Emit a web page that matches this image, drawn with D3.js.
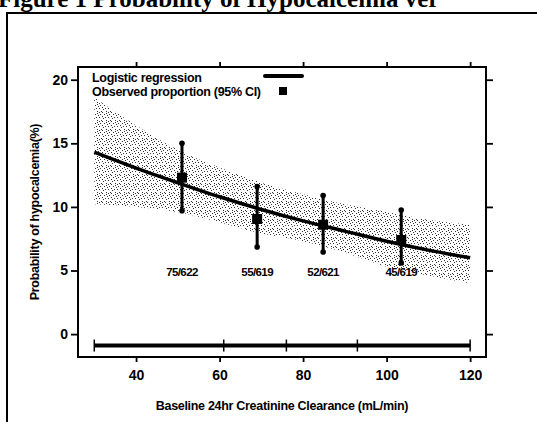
<!doctype html>
<html lang="en">
<head>
  <meta charset="UTF-8">
  <title>Probability of Hypocalcemia</title>
  <script src="https://cdn.jsdelivr.net/npm/d3@7"></script>
  <style>
    body { margin: 0; background: #fff; }
    text { font-family: "Liberation Sans", Arial, sans-serif; font-weight: bold; fill: #000; }
  </style>
</head>
<body>
<div id="chart"></div>
<script>
  // fitted curve + 95% band
  var fitX     = [30, 40, 50, 60, 70, 80, 90, 100, 110, 120];
  var fitProb  = [14.3, 13.05, 11.9, 10.8, 9.8, 8.9, 8.1, 7.3, 6.6, 6.0];
  var bandHigh = [18.6, 16.4, 14.5, 13.1, 11.9, 11.0, 10.2, 9.6, 9.0, 8.6];
  var bandLow  = [10.2, 10.0, 9.6, 8.8, 7.9, 7.3, 6.4, 5.3, 4.6, 4.0];

  // observed proportions (95% CI)
  var obsX    = [51, 69, 84.8, 103.5];
  var obsProb = [12.3, 9.05, 8.6, 7.4];
  var obsLow  = [9.7, 6.85, 6.45, 5.6];
  var obsHigh = [15.0, 11.6, 10.9, 9.75];
  var obsN    = ["75/622", "55/619", "52/621", "45/619"];

  // distribution of clearance (min, quartiles, max)
  var distMarks = [30, 61, 76, 93, 120];

  var xTicks = [40, 60, 80, 100, 120];
  var yTicks = [0, 5, 10, 15, 20];

  var width = 537, height = 422;
  var svg = d3.select("#chart").append("svg")
      .attr("width", width)
      .attr("height", height);

  // stippled fill for the confidence band
  var defs = svg.append("defs");
  var pat = defs.append("pattern")
      .attr("id", "stipple")
      .attr("patternUnits", "userSpaceOnUse")
      .attr("width", 9).attr("height", 9);
  pat.append("rect").attr("width", 9).attr("height", 9).attr("fill", "#fff");
  [[0,0],[4,1],[7,3],[2,3],[5,6],[8,7],[1,6],[3,8],[6,0],[0,4],[7,5],[3,4]].forEach(function(p) {
    pat.append("rect").attr("x", p[0]).attr("y", p[1])
      .attr("width", 1).attr("height", 1).attr("fill", "#333");
  });

  // title, cut at the top of the scan
  svg.append("text")
      .attr("x", -2).attr("y", 7)
      .style("font-family", "'Liberation Serif', 'Times New Roman', serif")
      .style("font-size", "25px")
      .text("Figure 1 Probability of Hypocalcemia ver");

  // outer figure box
  svg.append("rect")
      .attr("x", 7).attr("y", 13)
      .attr("width", 560).attr("height", 440)
      .attr("fill", "none").attr("stroke", "#000").attr("stroke-width", 2);

  var x = d3.scaleLinear().domain([26.1, 123.8]).range([78, 486]);
  var y = d3.scaleLinear().domain([-1.8, 21.0]).range([357, 67]);

  // band
  var area = d3.area()
      .x(function(d, i) { return x(fitX[i]); })
      .y0(function(d, i) { return y(bandLow[i]); })
      .y1(function(d, i) { return y(bandHigh[i]); })
      .curve(d3.curveMonotoneX);
  svg.append("path")
      .datum(fitX)
      .attr("d", area)
      .attr("fill", "url(#stipple)");

  // fitted line
  var line = d3.line()
      .x(function(d, i) { return x(fitX[i]); })
      .y(function(d, i) { return y(fitProb[i]); })
      .curve(d3.curveMonotoneX);
  svg.append("path")
      .datum(fitX)
      .attr("d", line)
      .attr("fill", "none")
      .attr("stroke", "#000")
      .attr("stroke-width", 3.5);

  // error bars
  var eb = svg.selectAll(".eb").data(obsX).enter().append("g").attr("class", "eb");
  eb.append("line")
      .attr("x1", function(d) { return x(d); }).attr("x2", function(d) { return x(d); })
      .attr("y1", function(d, i) { return y(obsLow[i]); })
      .attr("y2", function(d, i) { return y(obsHigh[i]); })
      .attr("stroke", "#000").attr("stroke-width", 3);
  eb.append("circle")
      .attr("cx", function(d) { return x(d); })
      .attr("cy", function(d, i) { return y(obsLow[i]); })
      .attr("r", 2.8);
  eb.append("circle")
      .attr("cx", function(d) { return x(d); })
      .attr("cy", function(d, i) { return y(obsHigh[i]); })
      .attr("r", 2.8);
  eb.append("rect")
      .attr("x", function(d) { return x(d) - 5; })
      .attr("y", function(d, i) { return y(obsProb[i]) - 5; })
      .attr("width", 10).attr("height", 10);

  // n labels
  svg.selectAll(".nlab").data(obsN).enter().append("text")
      .attr("x", function(d, i) { return x(obsX[i]); })
      .attr("y", y(4.6))
      .attr("text-anchor", "middle")
      .style("font-size", "11.5px")
      .style("letter-spacing", "-0.6px")
      .text(function(d) { return d; });

  // distribution bar
  svg.append("line")
      .attr("x1", x(distMarks[0])).attr("x2", x(distMarks[distMarks.length - 1]))
      .attr("y1", y(-0.9)).attr("y2", y(-0.9))
      .attr("stroke", "#000").attr("stroke-width", 4);
  svg.selectAll(".dm").data(distMarks).enter().append("line")
      .attr("x1", function(d) { return x(d); }).attr("x2", function(d) { return x(d); })
      .attr("y1", y(-0.9) - 6).attr("y2", y(-0.9) + 6)
      .attr("stroke", "#000").attr("stroke-width", 1.5);

  // frame
  svg.append("rect")
      .attr("x", 78).attr("y", 67)
      .attr("width", 408).attr("height", 290)
      .attr("fill", "none").attr("stroke", "#000").attr("stroke-width", 2);

  // axes
  var xAxis = svg.append("g")
      .attr("transform", "translate(0,357)")
      .call(d3.axisBottom(x).tickValues(xTicks).tickSize(5).tickPadding(8));
  var xTop = svg.append("g")
      .attr("transform", "translate(0,67)")
      .call(d3.axisTop(x).tickValues(xTicks).tickSize(5).tickFormat(""));
  var yAxis = svg.append("g")
      .attr("transform", "translate(78,0)")
      .call(d3.axisLeft(y).tickValues(yTicks).tickSize(7).tickPadding(3));
  var yRight = svg.append("g")
      .attr("transform", "translate(486,0)")
      .call(d3.axisRight(y).tickValues(yTicks).tickSize(7).tickFormat(""));
  [xAxis, xTop, yAxis, yRight].forEach(function(g) {
    g.select(".domain").remove();
    g.selectAll(".tick line").attr("stroke", "#000").attr("stroke-width", 1.8);
    g.selectAll(".tick text")
      .style("font-family", "'Liberation Sans', Arial, sans-serif")
      .style("font-weight", "bold")
      .style("font-size", "14px")
      .attr("fill", "#000");
  });

  // legend
  svg.append("text").attr("x", 92).attr("y", 82)
      .style("font-size", "12.5px").style("letter-spacing", "-0.3px")
      .text("Logistic regression");
  svg.append("line")
      .attr("x1", 265).attr("x2", 302).attr("y1", 76).attr("y2", 76)
      .attr("stroke", "#000").attr("stroke-width", 4).attr("stroke-linecap", "round");
  svg.append("text").attr("x", 92).attr("y", 96)
      .style("font-size", "12.5px").style("letter-spacing", "-0.3px")
      .text("Observed proportion (95% CI)");
  svg.append("rect")
      .attr("x", 279).attr("y", 87).attr("width", 8).attr("height", 8);

  // axis titles
  svg.append("text")
      .attr("x", 282).attr("y", 410)
      .attr("text-anchor", "middle")
      .style("font-size", "12.5px")
      .style("letter-spacing", "-0.3px")
      .text("Baseline 24hr Creatinine Clearance (mL/min)");
  svg.append("text")
      .attr("transform", "translate(39,212) rotate(-90)")
      .attr("text-anchor", "middle")
      .style("font-size", "12.5px")
      .style("letter-spacing", "-0.3px")
      .text("Probability of hypocalcemia(%)");
</script>
</body>
</html>
